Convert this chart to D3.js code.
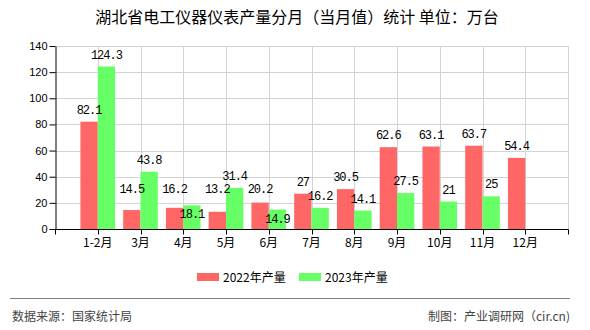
<!DOCTYPE html>
<html>
<head>
<meta charset="utf-8">
<script src="https://cdn.jsdelivr.net/npm/d3@7"></script>
<style>
  html, body { margin: 0; padding: 0; background: #fff; }
  svg { display: block; }
</style>
</head>
<body>
<svg id="chart" width="590" height="330"></svg>
<script>
// Monthly output, 10k units
const categories = ['1-2月', '3月', '4月', '5月', '6月', '7月', '8月', '9月', '10月', '11月', '12月'];
const values2022 = [82.1, 14.5, 16.2, 13.2, 20.2, 27, 30.5, 62.6, 63.1, 63.7, 54.4];
const values2023 = [124.3, 43.8, 18.1, 31.4, 14.9, 16.2, 14.1, 27.5, 21, 25, null];
const seriesNames = ['2022年产量', '2023年产量'];
const seriesColors = ['#ff6666', '#66ff66'];
const yTicks = [0, 20, 40, 60, 80, 100, 120, 140];

const titleText = '湖北省电工仪器仪表产量分月（当月值）统计 单位：万台';
const sourceText = '数据来源：国家统计局';
const creditText = '制图：产业调研网（cir.cn)';

(function draw() {
  const svg = d3.select('#chart');
  const cjk = '"Noto Sans CJK SC", "Noto Sans", sans-serif';
  const mono = '"Liberation Mono", "DejaVu Sans Mono", monospace';

  const plotL = 55, plotR = 568, plotT = 46, plotB = 229;

  const x = d3.scalePoint().domain(categories).range([plotL, plotR]).padding(1);
  const step = x.step();
  const barW = step * 0.405;
  const y = d3.scaleLinear().domain([0, 140]).range([plotB, plotT]);

  // Title
  svg.append('text')
    .attr('x', 297).attr('y', 23)
    .attr('text-anchor', 'middle')
    .attr('font-family', cjk).attr('font-size', 16)
    .attr('fill', '#000')
    .text(titleText);

  // Grid
  const grid = svg.append('g').attr('stroke', '#d3d3d3').attr('stroke-width', 1);
  grid.selectAll('line.h').data(yTicks.filter(t => t > 0)).join('line')
    .attr('x1', plotL).attr('x2', plotR)
    .attr('y1', d => Math.round(y(d)) + 0.5).attr('y2', d => Math.round(y(d)) + 0.5);
  const vTicks = d3.range(0, 13).map(i => plotL + i * step);
  grid.selectAll('line.v').data(vTicks.slice(1)).join('line')
    .attr('x1', d => Math.round(d) + 0.5).attr('x2', d => Math.round(d) + 0.5)
    .attr('y1', plotT).attr('y2', plotB);

  // Bars
  const groups = categories.map((c, i) => ({ c, a: values2022[i], b: values2023[i] }));
  const bars = svg.append('g');
  bars.selectAll('rect.a').data(groups).join('rect')
    .attr('x', d => x(d.c) - barW).attr('width', barW)
    .attr('y', d => y(d.a)).attr('height', d => y(0) - y(d.a))
    .attr('fill', seriesColors[0]);
  bars.selectAll('rect.b').data(groups.filter(d => d.b != null)).join('rect')
    .attr('x', d => x(d.c)).attr('width', barW)
    .attr('y', d => y(d.b)).attr('height', d => y(0) - y(d.b))
    .attr('fill', seriesColors[1]);

  // Axes
  const yAxis = d3.axisLeft(y).tickValues(yTicks).tickSize(6).tickSizeOuter(0).tickPadding(2);
  const yg = svg.append('g').attr('transform', `translate(${plotL + 0.5},0)`).call(yAxis);
  yg.select('.domain').attr('stroke', '#000');
  yg.selectAll('.tick line').attr('stroke', '#000');
  yg.selectAll('.tick text').attr('font-family', '"Liberation Sans", Arial, sans-serif')
    .attr('font-size', 11).attr('fill', '#000');

  const xg = svg.append('g').attr('transform', `translate(0,${plotB + 0.5})`);
  xg.append('line').attr('x1', plotL).attr('x2', plotR + 0.5).attr('stroke', '#000');
  xg.selectAll('line.t').data(vTicks).join('line')
    .attr('x1', d => Math.round(d) + 0.5).attr('x2', d => Math.round(d) + 0.5)
    .attr('y1', 0).attr('y2', 5).attr('stroke', '#000');
  xg.selectAll('text').data(categories).join('text')
    .attr('x', d => x(d)).attr('y', 17)
    .attr('text-anchor', 'middle')
    .attr('font-family', cjk).attr('font-size', 12).attr('fill', '#000')
    .text(d => d);

  // Value labels: 2022 labels keep a minimum height above the axis; a 2023 label
  // that would collide with its neighbour moves inside its own bar.
  const labelFloor = y(0) - 36;
  const labels = svg.append('g')
    .attr('font-family', mono).attr('font-size', 12).attr('letter-spacing', -1)
    .attr('fill', '#000').attr('text-anchor', 'middle');
  groups.forEach(d => {
    const ya = Math.min(y(d.a) - 8, labelFloor);
    labels.append('text').attr('x', x(d.c) - barW / 2).attr('y', ya).text(d.a);
    if (d.b != null) {
      let yb = y(d.b) - 8;
      if (Math.abs(yb - ya) < 12) yb = y(d.b) + 13;
      labels.append('text').attr('x', x(d.c) + barW / 2).attr('y', yb).text(d.b);
    }
  });

  // Legend
  const legend = svg.append('g');
  const legendX = [197, 299];
  seriesNames.forEach((name, i) => {
    legend.append('rect').attr('x', legendX[i]).attr('y', 273).attr('width', 22).attr('height', 8)
      .attr('fill', seriesColors[i]);
    legend.append('text').attr('x', legendX[i] + 26).attr('y', 281.5)
      .attr('font-family', cjk).attr('font-size', 12).attr('fill', '#000')
      .text(name);
  });

  // Footer
  svg.append('line').attr('x1', 10).attr('x2', 570).attr('y1', 298.5).attr('y2', 298.5)
    .attr('stroke', '#808080').attr('stroke-width', 1);
  svg.append('text').attr('x', 12).attr('y', 320.5)
    .attr('font-family', cjk).attr('font-size', 12).attr('fill', '#444')
    .text(sourceText);
  svg.append('text').attr('x', 570).attr('y', 320.5).attr('text-anchor', 'end')
    .attr('font-family', cjk).attr('font-size', 12).attr('fill', '#444')
    .text(creditText);
})();
</script>
</body>
</html>
